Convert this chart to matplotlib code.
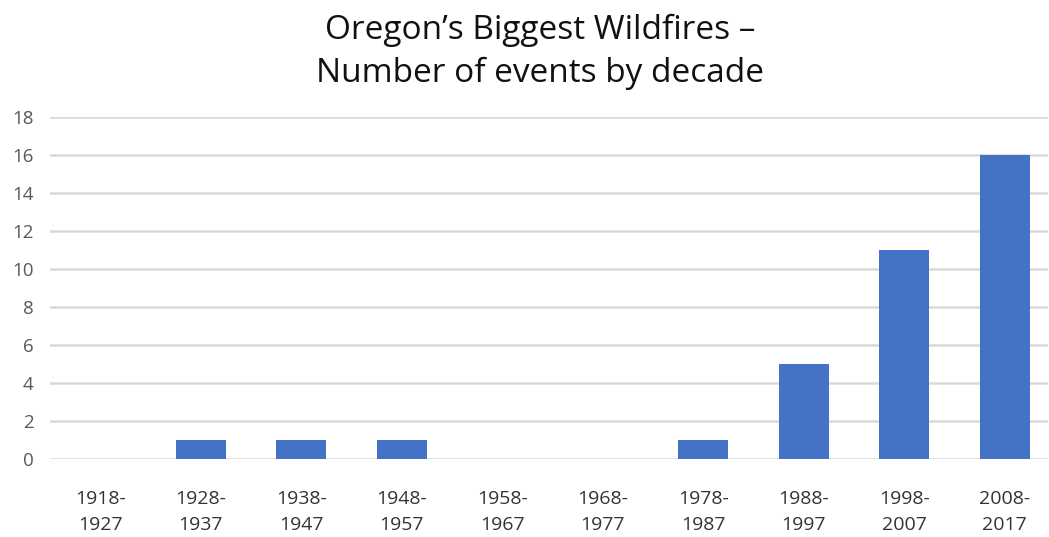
import matplotlib.pyplot as plt

decades = ["1918-\n1927", "1928-\n1937", "1938-\n1947", "1948-\n1957", "1958-\n1967",
           "1968-\n1977", "1978-\n1987", "1988-\n1997", "1998-\n2007", "2008-\n2017"]
events = [0, 1, 1, 1, 0, 0, 1, 5, 11, 16]
yticks = [0, 2, 4, 6, 8, 10, 12, 14, 16, 18]

plt.rcParams['font.family'] = ['Open Sans', 'DejaVu Sans']

fig = plt.figure(figsize=(10.49, 5.37), dpi=100)
ax = fig.add_axes([50 / 1049, 78 / 537, 998 / 1049, 342 / 537])

x = list(range(len(decades)))
ax.bar(x, events, width=0.5, color="#4472C4", zorder=3)

ax.set_ylim(0, 18)
ax.set_xlim(-0.5, 9.43)
ax.set_yticks(yticks)
ax.set_xticks(x)
ax.set_xticklabels(decades, fontsize=14, color="#333333", linespacing=1.6)
ax.tick_params(axis="y", length=0, pad=12, labelsize=13.5, labelcolor="#595959")
ax.tick_params(axis="x", length=0, pad=22)
ax.grid(axis="y", color="#d9d9d9", linewidth=1.8, zorder=0)
for s in ax.spines.values():
    s.set_visible(False)

fig.suptitle("Oregon\u2019s Biggest Wildfires \u2013\nNumber of events by decade",
             x=0.515, y=0.975, fontsize=24, color="#111111", linespacing=1.4)

fig.savefig("out.png", dpi=100)
